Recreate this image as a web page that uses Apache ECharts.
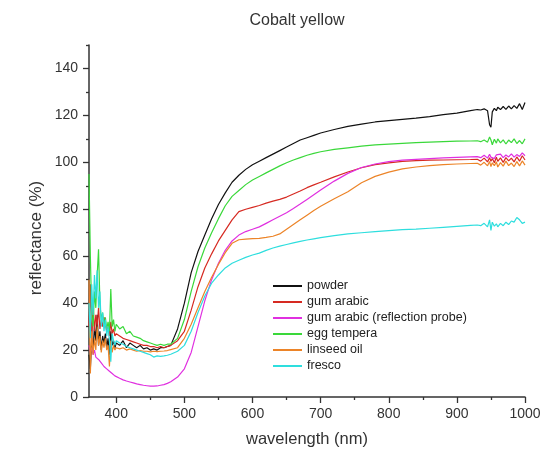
<!DOCTYPE html>
<html>
<head>
<meta charset="utf-8">
<script src="https://cdn.jsdelivr.net/npm/echarts@6/dist/echarts.min.js"></script>
<style>
  html, body { margin: 0; padding: 0; background: #fff; }
  #chart { width: 545px; height: 454px; }
</style>
</head>
<body>
<div id="chart"></div>
<script>
// Wavelength grid (nm) shared by all six spectra
const wavelengths = [
  360,362,364,366,368,370,372,374,376,378,380,382,384,386,388,390,392,394,396,398,400,
  405,410,415,420,425,430,435,440,445,450,455,460,465,470,475,480,
  490,500,510,520,530,540,550,560,570,580,590,600,610,620,630,640,650,660,670,680,690,700,
  720,740,760,780,800,820,840,860,880,900,920,930,
  935,940,945,948,950,952,955,958,960,964,968,972,976,980,984,988,992,996,1000
];

// Reflectance (%) for each preparation
const powder = [
  18,12,25,20,30,24,35,22,28,20,26,23,27,21,25,18,28,22,24,21,23,
  22,24,21,23,22,21,22,20.5,21,20,20.5,20,21,21,21.5,22,
  29,40,53,62,69,76,82,87,91.5,94.5,97,99,100.5,102,103.5,105,106.5,108,109.5,110.5,111.5,112.5,
  114,115.3,116.3,117.2,117.8,118.3,118.8,119.5,120.3,121,122,122.5,
  122.3,122.8,122,116,115,121.5,123,122,123.5,122.5,123.8,122.6,124,122.8,124.2,123,125,122.5,125.5
];
const gumArabic = [
  30,48,22,40,28,35,30,38,29,33,30,34,31,28,30,26,32,27,29,26,27,
  26,25,24.5,24,23.5,23,22.5,22,22,21.5,21.5,21,21.5,21,21.5,22,
  24,28,37,47,55,61,66.5,71,75.5,79,80,80.8,81.6,82.6,83.5,84.2,85.2,86.5,87.8,89.2,90.4,91.5,
  93.8,95.9,97.7,99,99.8,100.4,100.7,100.9,101,101.1,101.2,101.3,
  100.5,101.8,100.2,102,100.5,101.6,99.8,102.2,100.4,101.9,100,102,100.6,101.8,100.2,102.3,100.5,102.8,101
];
const gumArabicProbe = [
  22,19,21,18,20,17,17.5,16,15.5,14.5,14,13,12.5,12,11.4,11,10.3,10,9.5,9,8.6,
  8,7.3,6.8,6.4,6,5.6,5.3,5,4.8,4.6,4.6,4.7,5,5.3,5.8,6.5,
  8.5,12,19,30,41,50,57,62.5,66.5,69,70.5,71.5,72.5,74,75.5,77,78.5,80.3,82.2,84.2,86.2,88.2,
  92,95.3,97.8,99.3,100.3,100.9,101.3,101.6,101.9,102.1,102.3,102.4,
  102,103,101.8,103.4,102.2,103,101.6,103.2,102.4,103.5,102,103.1,102.3,103.6,102.2,103.3,102.5,104,102.8
];
const eggTempera = [
  95,60,35,30,45,38,52,63,40,33,36,30,34,29,32,28,46,30,33,28,31,
  29,30,27,28,26,25.5,25,24,23.5,23,22.5,22,22.5,22,22.5,22.5,
  25,33,45,55.5,63.5,70,76,81.5,85.5,88,90.5,92.5,94,95.5,97,98.5,99.8,101,102,103,103.8,104.5,
  105.5,106.2,106.9,107.4,107.8,108.1,108.4,108.6,108.8,109,109.1,109.2,
  108.8,109.5,108.6,110.8,109.5,107.5,109.8,108.2,110,108.3,109.6,107.8,109.5,108.4,110,108,109.3,107.9,110
];
const linseedOil = [
  50,10,28,18,25,20,30,22,26,19,24,21,25,20,22,13,24,19,22,20,21,
  20.5,21,20,20.5,20,19.5,19.8,19.5,19.5,19.2,19.5,19.3,19.5,19.6,19.8,20.2,
  21,25,31,38,45,51,56.5,61.5,65.5,67,67.3,67.5,67.6,68,68.5,69.5,71.5,73.5,75.5,77.5,79.5,81.3,
  84.5,87.5,91.3,94,95.8,97.2,98,98.6,99,99.3,99.5,99.6,
  98.8,100,98.5,100.4,98.2,99.8,98.6,100.2,98,99.9,98.4,100.5,98.6,99.7,98.2,100.3,98.5,100.6,98.8
];
const fresco = [
  40,25,48,35,52,42,54,38,45,30,36,28,33,26,30,24,15,27,24,22,24,
  23,22.5,21.5,21,20.5,20,19.5,19,18.5,18,17,17.5,17.3,17.5,17.8,18.2,
  19.5,22,28,36,43,48.5,52,55,57,58.3,59.5,60.5,61.3,62.5,63.5,64.3,65,65.7,66.3,66.9,67.4,67.9,
  68.8,69.5,70,70.5,70.9,71.3,71.5,71.9,72.3,72.7,73.1,73.3,
  73,74,72.5,75.5,71,74.5,72.8,73.8,72.5,74,73,74.5,73.5,75,74.5,76.5,75.5,74,74.5
];

const seriesNames = ['powder', 'gum arabic', 'gum arabic (reflection probe)', 'egg tempera', 'linseed oil', 'fresco'];
const seriesValues = [powder, gumArabic, gumArabicProbe, eggTempera, linseedOil, fresco];
const seriesColors = ['#111111', '#d62a22', '#e030e0', '#3ad83a', '#ec8428', '#2edede'];

// Axis tick positions
const xMajorTicks = [400, 500, 600, 700, 800, 900, 1000];
const xMinorTicks = [450, 550, 650, 750, 850, 950];
const yMajorTicks = [0, 20, 40, 60, 80, 100, 120, 140];
const yMinorTicks = [10, 30, 50, 70, 90, 110, 130, 150];

const FONT = 'Liberation Sans, Arial, sans-serif';
const axisColor = '#333';
const labelStyle = { color: '#333', fontSize: 14, fontFamily: FONT, formatter: v => String(v) };

const chart = echarts.init(document.getElementById('chart'));

chart.setOption({
  backgroundColor: '#fff',
  animation: false,
  title: {
    text: 'Cobalt yellow',
    left: 292,
    top: 8,
    textAlign: 'center',
    textStyle: { color: '#333', fontSize: 16, fontWeight: 'normal', fontFamily: FONT }
  },
  legend: {
    orient: 'vertical',
    left: 268,
    top: 274,
    icon: 'rect',
    itemWidth: 29,
    itemHeight: 2,
    itemGap: 2,
    textStyle: { color: '#222', fontSize: 12.5, lineHeight: 14, fontFamily: FONT },
    data: seriesNames
  },
  grid: { left: 89, right: 20, top: 45, bottom: 57, containLabel: false },
  xAxis: [
    {
      type: 'value', min: 360, max: 1000,
      name: 'wavelength (nm)', nameLocation: 'middle', nameGap: 34,
      nameTextStyle: { color: '#333', fontSize: 16.5, fontFamily: FONT },
      axisLine: { show: true, lineStyle: { color: axisColor, width: 1.5 } },
      axisTick: { show: true, length: 6, customValues: xMajorTicks, lineStyle: { color: axisColor, width: 1.3 } },
      axisLabel: { customValues: xMajorTicks, margin: 10, ...labelStyle },
      splitLine: { show: false }
    },
    {
      type: 'value', min: 360, max: 1000, position: 'bottom',
      axisLine: { show: false },
      axisTick: { show: true, length: 3, customValues: xMinorTicks, lineStyle: { color: axisColor, width: 1.3 } },
      axisLabel: { show: false },
      splitLine: { show: false }
    }
  ],
  yAxis: [
    {
      type: 'value', min: 0, max: 150,
      axisLine: { show: true, lineStyle: { color: axisColor, width: 1.5 } },
      axisTick: { show: true, length: 6, customValues: yMajorTicks, lineStyle: { color: axisColor, width: 1.3 } },
      axisLabel: { customValues: yMajorTicks, margin: 11, ...labelStyle },
      splitLine: { show: false }
    },
    {
      type: 'value', min: 0, max: 150, position: 'left',
      axisLine: { show: false },
      axisTick: { show: true, length: 3, customValues: yMinorTicks, lineStyle: { color: axisColor, width: 1.3 } },
      axisLabel: { show: false },
      splitLine: { show: false }
    }
  ],
  graphic: [{
    type: 'text',
    x: 36, y: 238,
    rotation: Math.PI / 2,
    style: {
      text: 'reflectance (%)',
      fill: '#333',
      font: '17px Liberation Sans, Arial, sans-serif',
      align: 'center',
      verticalAlign: 'middle'
    }
  }],
  series: seriesNames.map((name, i) => ({
    name,
    type: 'line',
    xAxisIndex: 0,
    yAxisIndex: 0,
    showSymbol: false,
    symbol: 'none',
    lineStyle: { width: 1.2, color: seriesColors[i] },
    itemStyle: { color: seriesColors[i] },
    data: wavelengths.map((w, k) => [w, seriesValues[i][k]])
  }))
});
</script>
</body>
</html>
